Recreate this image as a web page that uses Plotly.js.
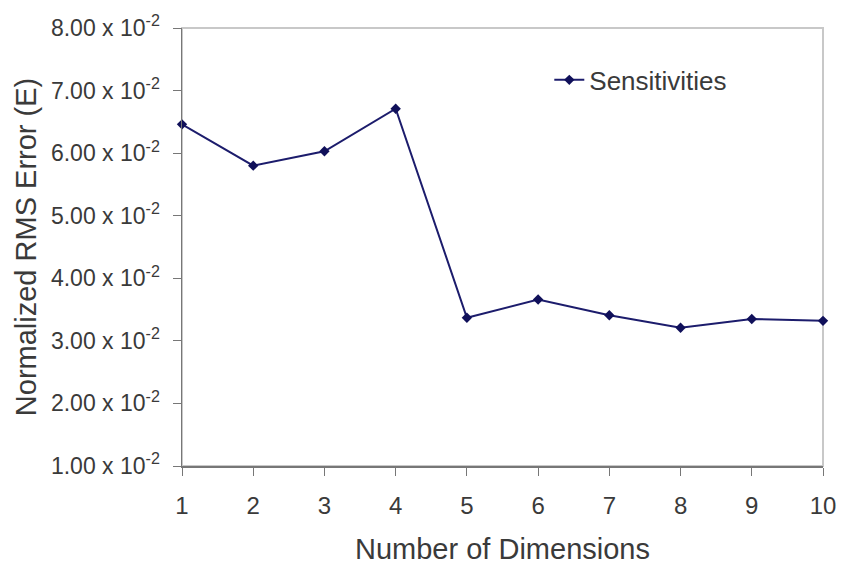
<!DOCTYPE html>
<html>
<head>
<meta charset="utf-8">
<script src="https://cdn.plot.ly/plotly-3.0.1.min.js"></script>
<style>html,body{margin:0;padding:0;background:#fff;}#chart{width:842px;height:569px;}</style>
</head>
<body>
<div id="chart"></div>
<script>
var dimensions = [1, 2, 3, 4, 5, 6, 7, 8, 9, 10];
var sensitivities = [0.0646, 0.0580, 0.0603, 0.0671, 0.0337, 0.0366, 0.0341, 0.0321, 0.0335, 0.0332];
var yTickVals = [0.01, 0.02, 0.03, 0.04, 0.05, 0.06, 0.07, 0.08];
var yTickText = ["1.00 x 10<sup>-2</sup>", "2.00 x 10<sup>-2</sup>", "3.00 x 10<sup>-2</sup>", "4.00 x 10<sup>-2</sup>",
                 "5.00 x 10<sup>-2</sup>", "6.00 x 10<sup>-2</sup>", "7.00 x 10<sup>-2</sup>", "8.00 x 10<sup>-2</sup>"];
var seriesName = "Sensitivities";

var trace = {
  x: dimensions, y: sensitivities, name: seriesName,
  type: "scatter", mode: "lines+markers",
  line: {color: "#1c1c6c", width: 2},
  marker: {symbol: "diamond", size: 8, color: "#10105a"},
  cliponaxis: false
};

var layout = {
  width: 842, height: 569,
  margin: {l: 182, r: 19, t: 28, b: 103},
  paper_bgcolor: "#fff", plot_bgcolor: "#fff",
  font: {family: "Liberation Sans, Arial, sans-serif", color: "#3a3a3a"},
  showlegend: true,
  legend: {x: 0.573, y: 0.935, xanchor: "left", yanchor: "top", bgcolor: "rgba(0,0,0,0)",
           font: {size: 26, color: "#3a3a3a"}},
  xaxis: {
    range: [1, 10], tickvals: dimensions, showgrid: false, zeroline: false,
    showline: true, linecolor: "#777", linewidth: 1.5,
    ticks: "outside", ticklen: 8, tickcolor: "#777",
    ticklabelstandoff: 10,
    tickfont: {size: 24, color: "#3a3a3a"},
    title: {text: "Number of Dimensions", font: {size: 29, color: "#3a3a3a"}, standoff: 20}
  },
  yaxis: {
    range: [0.01, 0.08], tickvals: yTickVals, ticktext: yTickText, showgrid: false, zeroline: false,
    showline: true, linecolor: "#777", linewidth: 1.5,
    ticks: "outside", ticklen: 8, tickcolor: "#777",
    ticklabelstandoff: 8,
    tickfont: {size: 23, color: "#3a3a3a"},
    title: {text: "Normalized RMS Error (E)", font: {size: 29, color: "#3a3a3a"}, standoff: 6}
  },
  shapes: [{type: "rect", xref: "paper", yref: "paper", x0: 0, x1: 1, y0: 0, y1: 1,
            line: {color: "#c8c8c8", width: 2}, layer: "below"}]
};

Plotly.newPlot("chart", [trace], layout, {displayModeBar: false, staticPlot: true});
</script>
</body>
</html>
